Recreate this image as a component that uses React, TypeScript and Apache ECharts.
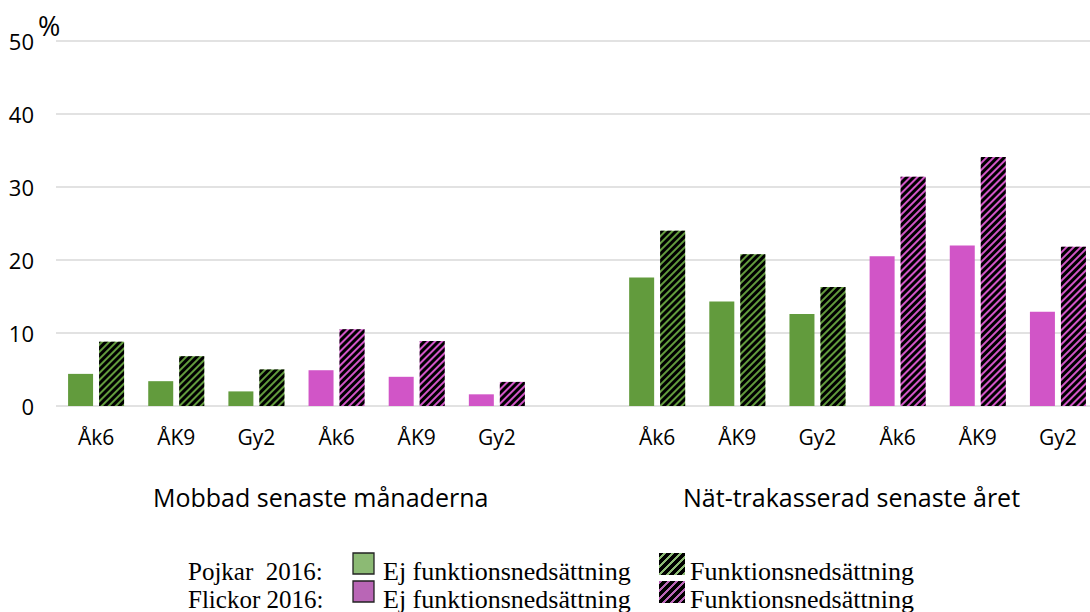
import React, { useEffect, useRef } from "react";
import * as echarts from "echarts";

const categories = ["Åk6", "ÅK9", "Gy2", "Åk6", "ÅK9", "Gy2", "", "Åk6", "ÅK9", "Gy2", "Åk6", "ÅK9", "Gy2"];
const groupOf = ["P", "P", "P", "F", "F", "F", "", "P", "P", "P", "F", "F", "F"];
const ejValues = [4.4, 3.4, 2.0, 4.9, 4.0, 1.6, null, 17.6, 14.3, 12.6, 20.5, 22.0, 12.9];
const funkValues = [8.8, 6.8, 5.0, 10.5, 8.9, 3.3, null, 24.0, 20.8, 16.3, 31.4, 34.1, 21.8];
const yTicks = [0, 10, 20, 30, 40, 50];
const groupTitles = ["Mobbad senaste månaderna", "Nät-trakasserad senaste året"];
const legendRows = ["Pojkar  2016:", "Flickor 2016:"];
const legendItems = ["Ej funktionsnedsättning", "Funktionsnedsättning"];

const GREEN = "#629b3d";
const PINK = "#d155c7";
const LEG_GREEN = "#8cba74";
const LEG_PINK = "#b966b6";

function stripeCanvas(color: string, period: number, colorW: number) {
  const c = document.createElement("canvas");
  c.width = period;
  c.height = period;
  const ctx = c.getContext("2d")!;
  ctx.fillStyle = "#000";
  ctx.fillRect(0, 0, period, period);
  ctx.fillStyle = color;
  for (let x = 0; x < period; x++) {
    for (let y = 0; y < period; y++) {
      if ((x + y) % period < colorW) ctx.fillRect(x, y, 1, 1);
    }
  }
  return c;
}

export default function App() {
  const ref = useRef<HTMLDivElement>(null);
  useEffect(() => {
    if (!ref.current) return;
    const chart = echarts.init(ref.current, undefined, { renderer: "svg" });
    const legPatG = { image: stripeCanvas(LEG_GREEN, 8, 3), repeat: "repeat" };
    const legPatP = { image: stripeCanvas(LEG_PINK, 8, 3), repeat: "repeat" };
    const font = "'Open Sans', sans-serif";
    const serif = "'Liberation Serif', serif";
    const legFont = `26px ${serif}`;
    const decal = {
      symbol: "rect",
      symbolSize: 1,
      color: "#000",
      dashArrayX: [1, 0],
      dashArrayY: [2.2, 1.6],
      rotation: -Math.PI / 4,
    };

    const ejData = ejValues.map((v, i) =>
      v == null ? "-" : { value: v, itemStyle: { color: groupOf[i] === "P" ? GREEN : PINK } }
    );
    const funkData = funkValues.map((v, i) =>
      v == null ? "-" : { value: v, itemStyle: { color: groupOf[i] === "P" ? GREEN : PINK, decal } }
    );

    const legendGraphics: any[] = [];
    legendRows.forEach((row, r) => {
      const cy = 571 + r * 28;
      legendGraphics.push({
        type: "text", x: 188, y: cy,
        style: { text: row, font: `25px ${serif}`, fill: "#000", textVerticalAlign: "middle" },
      });
      legendGraphics.push({
        type: "rect", shape: { x: 353, y: cy - 18, width: 21, height: 21 },
        style: { fill: r === 0 ? LEG_GREEN : LEG_PINK, stroke: "#222", lineWidth: 1.3 },
      });
      legendGraphics.push({
        type: "text", x: 383, y: cy,
        style: { text: legendItems[0], font: legFont, fill: "#000", textVerticalAlign: "middle" },
      });
      legendGraphics.push({
        type: "rect", shape: { x: 659, y: cy - 18, width: 26, height: 22 },
        style: { fill: r === 0 ? legPatG : legPatP },
      });
      legendGraphics.push({
        type: "text", x: 690, y: cy,
        style: { text: legendItems[1], font: legFont, fill: "#000", textVerticalAlign: "middle" },
      });
    });

    chart.setOption({
      animation: false,
      aria: { enabled: false, decal: { show: false } },
      grid: { left: 56, top: 41, width: 1042, height: 365, containLabel: false },
      xAxis: {
        type: "category",
        data: categories,
        axisLine: { show: false },
        axisTick: { show: false },
        axisLabel: { color: "#000", fontSize: 21, fontFamily: font, margin: 20, interval: 0 },
      },
      yAxis: {
        type: "value",
        min: yTicks[0],
        max: yTicks[yTicks.length - 1],
        interval: 10,
        axisLine: { show: false },
        axisTick: { show: false },
        axisLabel: { color: "#000", fontSize: 22, fontFamily: font, margin: 22 },
        splitLine: { lineStyle: { color: "#d9d9d9", width: 1.5 } },
      },
      series: [
        { name: legendItems[0], type: "bar", data: ejData, barWidth: 25, barGap: "24%" },
        { name: legendItems[1], type: "bar", data: funkData, barWidth: 25, barGap: "24%" },
      ],
      graphic: [
        { type: "text", x: 38, y: 25, style: { text: "%", font: `27px ${font}`, fill: "#000", textVerticalAlign: "middle" } },
        { type: "text", x: 153, y: 497, style: { text: groupTitles[0], font: `25px ${font}`, fill: "#000", textVerticalAlign: "middle" } },
        { type: "text", x: 683, y: 497, style: { text: groupTitles[1], font: `25px ${font}`, fill: "#000", textVerticalAlign: "middle" } },
        ...legendGraphics,
      ],
    });
    return () => chart.dispose();
  }, []);
  return (
    <div style={{ position: "fixed", left: 0, top: 0, width: 1090, height: 612, overflow: "hidden", background: "#fff" }}>
      <div ref={ref} style={{ width: 1100, height: 612 }} />
    </div>
  );
}
